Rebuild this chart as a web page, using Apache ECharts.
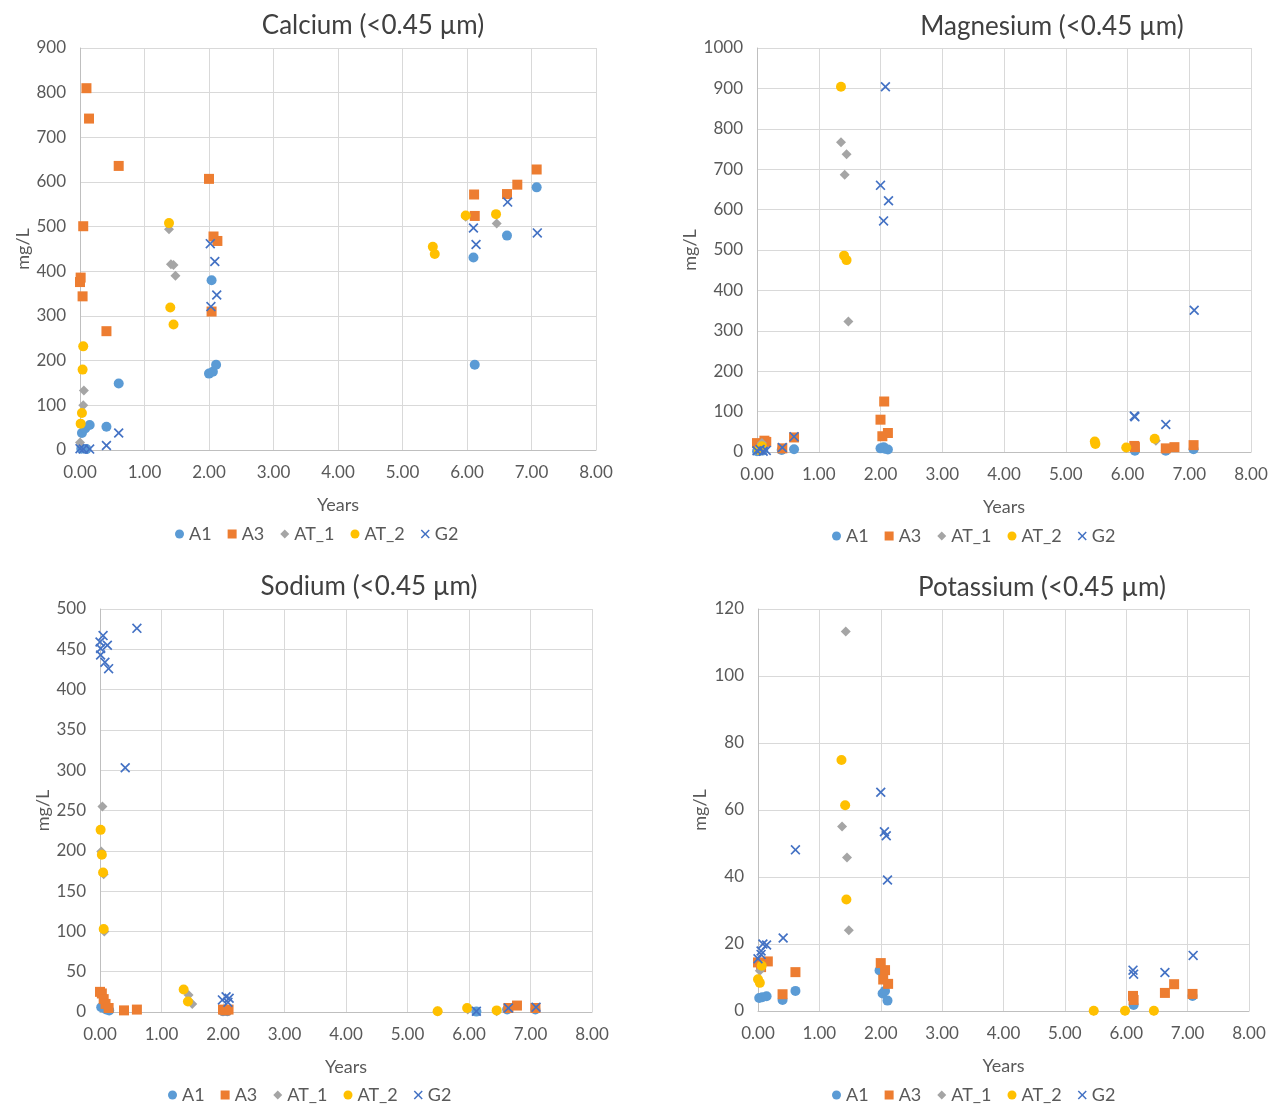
<!DOCTYPE html>
<html><head><meta charset="utf-8">
<script src="https://cdn.jsdelivr.net/npm/echarts@6/dist/echarts.min.js"></script>
<style>html,body{margin:0;padding:0;background:#fff}#c{width:1280px;height:1104px}</style>
</head><body><div id="c"></div>
<script>
const seriesNames = ['A1','A3','AT_1','AT_2','G2'];
const panelTitles = ['Calcium (<0.45 µm)','Magnesium (<0.45 µm)','Sodium (<0.45 µm)','Potassium (<0.45 µm)'];
const yMax = [900, 1000, 500, 120];
const yStep = [100, 100, 50, 20];
const xTicks = [0,1,2,3,4,5,6,7,8];

// Calcium
const caA1 = [[0.03,38],[0.08,48],[0.15,56],[0.41,52],[0.60,149],[0.02,3],[0.10,2],[2.00,171],[2.06,175],[2.11,191],[2.04,380],[6.12,191],[6.10,431],[6.62,480],[7.08,588]];
const caA3 = [[0.00,376],[0.01,386],[0.04,344],[0.05,501],[0.10,810],[0.14,742],[0.41,266],[0.60,636],[2.00,607],[2.07,478],[2.13,468],[2.04,310],[6.11,572],[6.12,524],[6.62,573],[6.78,594],[7.08,628]];
const caAT1 = [[0.00,17],[0.05,100],[0.06,133],[1.38,494],[1.41,416],[1.45,414],[1.48,390],[5.98,522],[6.46,507]];
const caAT2 = [[0.01,59],[0.03,83],[0.04,180],[0.05,232],[1.38,508],[1.40,319],[1.45,281],[5.47,455],[5.50,439],[5.98,525],[6.45,528]];
const caG2 = [[0.00,3],[0.05,2],[0.15,2],[0.41,10],[0.60,38],[2.02,462],[2.09,422],[2.12,347],[2.03,321],[6.10,497],[6.14,460],[6.63,555],[7.09,486]];

// Magnesium
const mgA1 = [[0.00,2],[0.05,3],[0.10,4],[0.40,5],[0.60,7],[2.00,9],[2.05,12],[2.07,8],[2.12,6],[6.12,3],[6.62,3],[7.07,7]];
const mgA3 = [[0.00,22],[0.05,18],[0.12,28],[0.15,25],[0.41,9],[0.60,36],[2.00,80],[2.06,125],[2.03,39],[2.12,47],[6.11,15],[6.12,12],[6.62,9],[6.76,12],[7.07,17]];
const mgAT1 = [[0.05,15],[0.08,22],[1.36,767],[1.45,737],[1.42,686],[1.48,323],[5.48,22],[5.98,10],[6.46,28]];
const mgAT2 = [[0.03,5],[0.08,14],[1.36,904],[1.41,486],[1.45,475],[5.47,26],[5.48,20],[5.98,11],[6.44,33]];
const mgG2 = [[0.00,3],[0.05,6],[0.10,2],[0.15,4],[0.41,11],[0.60,38],[2.08,904],[2.00,660],[2.13,622],[2.05,572],[6.11,89],[6.12,87],[6.62,68],[7.08,351]];

// Sodium
const naA1 = [[0.02,6],[0.10,3],[0.15,2],[2.00,1],[2.07,1],[6.12,0.5],[6.62,3],[7.08,3]];
const naA3 = [[0.00,25],[0.03,23],[0.06,16],[0.09,10],[0.14,5],[0.39,2],[0.60,3],[2.00,3],[2.04,2],[2.09,3],[6.64,5],[6.78,8],[7.08,5]];
const naAT1 = [[0.04,255],[0.02,199],[0.06,171],[0.07,100],[1.44,21],[1.50,10],[5.49,1],[5.98,3],[6.45,1]];
const naAT2 = [[0.01,226],[0.03,195],[0.05,173],[0.06,103],[1.36,28],[1.43,13],[5.49,1],[5.97,5],[6.45,2]];
const naG2 = [[0.05,467],[0.00,459],[0.12,455],[0.01,451],[0.01,443],[0.08,434],[0.14,426],[0.60,476],[0.41,303],[1.99,15],[2.05,19],[2.08,12],[2.10,17],[6.12,1],[6.64,5],[7.09,6]];

// Potassium
const kA1 = [[0.61,6.0],[0.40,3.3],[0.02,3.9],[0.07,4.1],[0.14,4.4],[1.98,12.1],[2.03,5.2],[2.07,6.0],[2.11,3.1],[6.12,1.8],[7.08,4.5]];
const kA3 = [[2.00,14.3],[2.07,12.2],[2.04,9.4],[2.12,8.1],[0.61,11.6],[0.40,5.0],[0.00,14.5],[0.05,13.1],[0.16,14.8],[6.11,4.5],[6.12,3.3],[6.63,5.4],[6.78,8.0],[7.08,5.1]];
const kAT1 = [[1.43,113.3],[1.37,55.1],[1.45,45.8],[1.48,24.1],[0.03,12.0],[5.47,0.1],[5.98,0.1],[6.45,0.1]];
const kAT2 = [[1.36,74.9],[1.42,61.4],[1.44,33.3],[0.00,9.5],[0.03,8.4],[0.06,13.5],[5.47,0.1],[5.98,0.1],[6.45,0.1]];
const kG2 = [[2.00,65.3],[2.06,53.5],[2.09,52.3],[2.11,39.1],[0.61,48.1],[0.41,21.8],[0.00,15.6],[0.05,17.9],[0.08,20.0],[0.14,19.7],[0.05,16.9],[6.11,12.2],[6.12,11.0],[6.63,11.5],[7.09,16.6]];

const panelData = [
  [caA1, caA3, caAT1, caAT2, caG2],
  [mgA1, mgA3, mgAT1, mgAT2, mgG2],
  [naA1, naA3, naAT1, naAT2, naG2],
  [kA1, kA3, kAT1, kAT2, kG2]
];

const FONT = 'Lato, "Open Sans", sans-serif';
const TXT = '#595959';
const colors = ['#5B9BD5','#ED7D31','#A5A5A5','#FFC000','#4472C4'];
const xPath = 'path://M1.2,0 L5,3.8 L8.8,0 L10,1.2 L6.2,5 L10,8.8 L8.8,10 L5,6.2 L1.2,10 L0,8.8 L3.8,5 L0,1.2 Z';
const symbols = ['circle','rect','diamond','circle',xPath];
const symSizes = [10,10,10,10,10];

const grids = [
  {left:80, top:48, width:516, height:402},
  {left:757, top:48, width:494, height:404},
  {left:100, top:609, width:492, height:403},
  {left:758, top:609, width:491, height:402}
];
const titlePos = [[368,8],[1047,9],[364,569],[1037,570]];
const legendPos = [[170,520],[827,522],[163,1081],[827,1081]];
const yNameGap = [46,57,48,49];

const option = {
  animation:false,
  backgroundColor:'#fff',
  title: panelTitles.map((t,i)=>({text:t, left:titlePos[i][0], top:titlePos[i][1], textAlign:'center',
    textStyle:{fontFamily:FONT, fontSize:26, fontWeight:'normal', color:'#404040'}})),
  legend: grids.map((g,i)=>({data:seriesNames, left:legendPos[i][0], top:legendPos[i][1], itemWidth:9, itemHeight:9, itemGap:16,
    textStyle:{fontFamily:FONT, fontSize:18, color:TXT}, selectedMode:false})),
  grid: grids,
  xAxis: grids.map((g,i)=>({type:'value', gridIndex:i, min:xTicks[0], max:xTicks[xTicks.length-1], interval:1,
    name:'Years', nameLocation:'middle', nameGap:46, nameTextStyle:{fontFamily:FONT, fontSize:18, color:TXT},
    axisLine:{show:true, lineStyle:{color:'#BFBFBF'}}, axisTick:{show:false},
    axisLabel:{fontFamily:FONT, fontSize:17, color:TXT, margin:14, formatter:v=>v.toFixed(2)},
    splitLine:{show:true, lineStyle:{color:'#D9D9D9', width:1}}})),
  yAxis: grids.map((g,i)=>({type:'value', gridIndex:i, min:0, max:yMax[i], interval:yStep[i],
    name:'mg/L', nameLocation:'middle', nameRotate:90, nameGap:yNameGap[i], nameTextStyle:{fontFamily:FONT, fontSize:18, color:TXT},
    axisLine:{show:true, lineStyle:{color:'#BFBFBF'}}, axisTick:{show:false},
    axisLabel:{fontFamily:FONT, fontSize:17, color:TXT, margin:14, formatter:v=>String(v)},
    splitLine:{show:true, lineStyle:{color:'#D9D9D9', width:1}}})),
  series: []
};
panelData.forEach((arr,p)=>{
  arr.forEach((d,s)=>{
    option.series.push({type:'scatter', name:seriesNames[s], xAxisIndex:p, yAxisIndex:p, data:d,
      symbol:symbols[s], symbolSize:symSizes[s], itemStyle:{color:colors[s], opacity:1}});
  });
});
const chart = echarts.init(document.getElementById('c'), null, {renderer:'canvas'});
chart.setOption(option);
</script>
</body></html>
